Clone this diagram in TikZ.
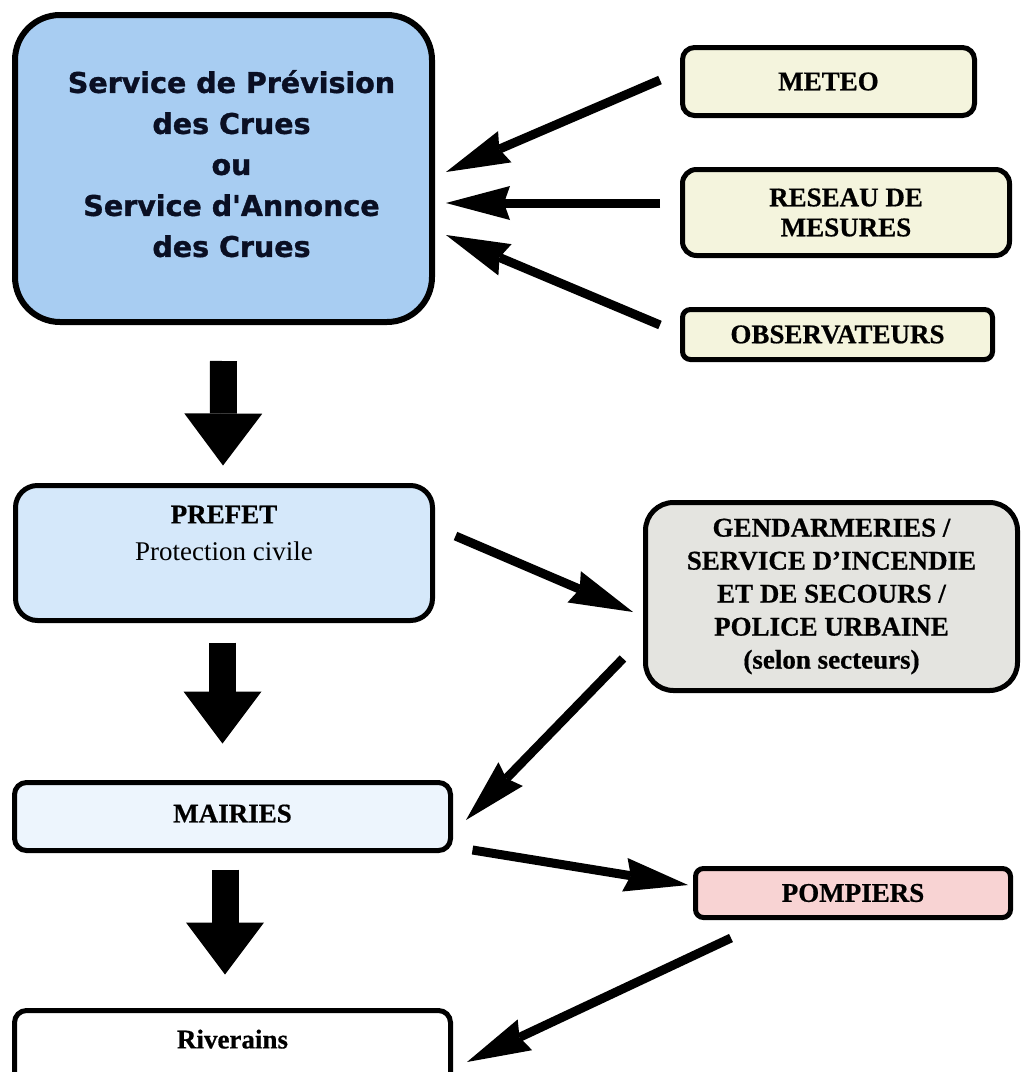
\documentclass[tikz,border=0pt]{standalone}
\usepackage{fontspec}
\setmainfont{Liberation Serif}[BoldFeatures={FakeBold=0.6}]
\newfontfamily\spcfont{DejaVu Sans}[BoldFeatures={FakeBold=1.2}]
\usetikzlibrary{arrows.meta,calc}
\definecolor{spcblue}{RGB}{168,205,242}
\definecolor{prefetblue}{RGB}{213,232,250}
\definecolor{mairieblue}{RGB}{237,245,253}
\definecolor{cream}{RGB}{244,244,221}
\definecolor{greybox}{RGB}{228,228,224}
\definecolor{pinkbox}{RGB}{248,211,211}
\definecolor{darktext}{RGB}{10,15,35}
\newcommand\shr{\hspace*{16pt}}
\begin{document}
\begin{tikzpicture}[x=1pt,y=-1pt,
  box/.style={draw=black, line width=5pt, rounded corners=#1, inner sep=0pt, align=center,
    font=\fontsize{27}{31}\selectfont\bfseries},
  thinarrow/.style={line width=9pt, -{Stealth[length=64pt,width=34pt,inset=6pt,line width=0pt]}},
  bigarrow/.style={line width=27pt, -{Triangle[length=52pt,width=78pt,line width=0pt]}}
]
\useasboundingbox (0,0) rectangle (1023,1072);
\fill[white] (0,0) rectangle (1023,1072);

% boxes
\node[box=45pt, line width=6pt, fill=spcblue, minimum width=417pt, minimum height=307pt,
  font=\spcfont\fontsize{28.5}{41}\selectfont\bfseries, text=darktext] (spc) at (223.5,168.5)
  {\shr Service de Prévision\\\shr des Crues\\\shr ou\\\shr Service d'Annonce\\\shr des Crues\rule[-10pt]{0pt}{0pt}};
\node[box=12pt, fill=cream, minimum width=292pt, minimum height=68pt] (meteo) at (828.5,81.5) {METEO};
\node[box=14pt, fill=cream, minimum width=327pt, minimum height=86pt,
  font=\fontsize{27}{30}\selectfont\bfseries] (reseau) at (846,212.5) {RESEAU DE\\MESURES};
\node[box=8pt, fill=cream, minimum width=310pt, minimum height=50pt] (obs) at (837.5,334.5) {OBSERVATEURS};
\node[box=22pt, fill=prefetblue, minimum width=417pt, minimum height=135pt,
  font=\fontsize{27}{37}\selectfont] (prefet) at (224,553)
  {\bfseries PREFET\\Protection civile\rule[-40pt]{0pt}{0pt}};
\node[box=28pt, fill=greybox, minimum width=372pt, minimum height=188pt,
  font=\fontsize{27}{33}\selectfont\bfseries] (gend) at (831.5,596.5)
  {GENDARMERIES /\\SERVICE D'INCENDIE\\ET DE SECOURS /\\POLICE URBAINE\\(selon secteurs)};
\node[box=12pt, fill=mairieblue, minimum width=436pt, minimum height=68pt] (mairies) at (232.5,816.5) {MAIRIES\rule[-6pt]{0pt}{0pt}};
\node[box=8pt, fill=pinkbox, minimum width=315pt, minimum height=49pt] (pompiers) at (853,893) {POMPIERS};
\node[box=12pt, fill=white, minimum width=436pt, minimum height=77pt] (riverains) at (232.5,1049)
  {Riverains\rule[-20pt]{0pt}{0pt}};

% thin arrows
\draw[thinarrow] ($(meteo.west)+(-20,-1.5)$) -- ($(spc.east)+(11,3.5)$);
\draw[thinarrow] ($(reseau.west)+(-20,-9.5)$) -- ($(spc.east)+(11,34.5)$);
\draw[thinarrow] ($(obs.west)+(-20,-9.5)$) -- ($(spc.east)+(11,66.5)$);
\draw[thinarrow] ($(prefet.east)+(20.5,-17)$) -- ($(gend.west)+(-10,15.5)$);
\draw[thinarrow] ($(gend.west)+(-20,62)$) -- ($(mairies.east)+(13,3.5)$);
\draw[thinarrow] ($(mairies.east)+(19.5,33.5)$) -- ($(pompiers.west)+(-5,-8)$);
\draw[thinarrow] ($(pompiers.west)+(38,45)$) -- ($(riverains.east)+(14,13)$);

% big arrows
\draw[bigarrow] ($(spc.south)+(0,36)$) -- ($(prefet.north)+(-1,-17.5)$);
\draw[bigarrow] ($(prefet.south)+(-1.5,19.5)$) -- ($(mairies.north)+(-10,-36.5)$);
\draw[bigarrow] ($(mairies.south)+(-7.5,16.5)$) -- ($(riverains.north)+(-7.5,-33.5)$);
\end{tikzpicture}
\end{document}
